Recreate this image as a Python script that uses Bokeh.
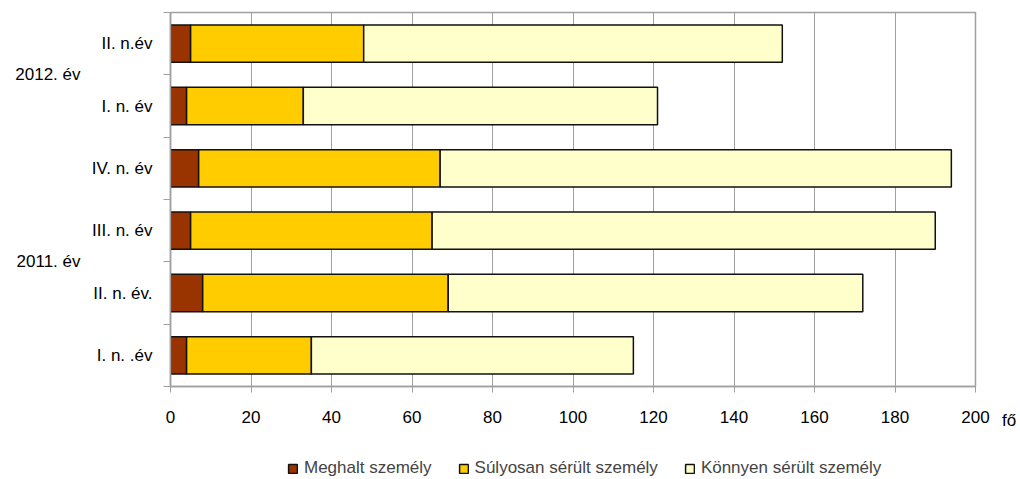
from bokeh.plotting import figure
from bokeh.layouts import row, column
from bokeh.models import (Range1d, FixedTicker, Legend, LegendItem, LinearAxis,
                          ColumnDataSource)
from bokeh.embed import file_html
from bokeh.resources import INLINE

# ---- data (bottom to top) ----
categories = ["I. n. .év", "II. n. év.", "III. n. év", "IV. n. év", "I. n. év", "II. n.év"]
meghalt = [4, 8, 5, 7, 4, 5]
sulyosan = [31, 61, 60, 60, 29, 43]
konnyen = [80, 103, 125, 127, 88, 104]
years = ["2011. év", "2012. év"]
year_sizes = [4, 2]
series_names = ["Meghalt személy", "Súlyosan sérült személy", "Könnyen sérült személy"]
x_ticks = [0, 20, 40, 60, 80, 100, 120, 140, 160, 180, 200]
unit_label = "fő"

# ---- styles ----
colors = ["#993300", "#FFCC00", "#FFFFCC"]
FONT = "Liberation Sans"
FS = "17px"
GRAY = "#A0A0A0"
BAR_LINE = "#111111"

ys = [i + 0.5 for i in range(len(categories))]
source = ColumnDataSource(dict(y=ys, cat=categories, m=meghalt, s=sulyosan, k=konnyen))

H = 448
p = figure(width=995, height=H, x_range=Range1d(0, x_ticks[-1]), y_range=Range1d(0, len(categories)),
           output_backend="svg", toolbar_location=None,
           min_border_left=170, min_border_right=20, min_border_top=12, min_border_bottom=62)
p.outline_line_color = GRAY
p.outline_line_width = 1.5

renderers = p.hbar_stack(["m", "s", "k"], y="y", height=0.6, color=colors,
                         line_color=BAR_LINE, line_width=1.5, source=source)

# x axis
p.xaxis.ticker = FixedTicker(ticks=x_ticks)
p.xaxis.major_tick_out = 6
p.xaxis.major_tick_in = 0
p.xaxis.minor_tick_out = 0
p.xaxis.axis_line_color = GRAY
p.xaxis.axis_line_width = 1.5
p.xaxis.major_tick_line_color = GRAY
p.xaxis.major_label_text_font = FONT
p.xaxis.major_label_text_font_size = FS
p.xaxis.major_label_text_color = "black"
p.xaxis.major_label_standoff = 18
p.xgrid.grid_line_color = GRAY
p.xgrid.grid_line_width = 1
p.ygrid.visible = False

# y axis (categories), boundary ticks as minor ticks
p.yaxis.ticker = FixedTicker(ticks=ys, minor_ticks=list(range(len(categories) + 1)))
p.yaxis.major_label_overrides = {y: c for y, c in zip(ys, categories)}
p.yaxis.major_tick_out = 0
p.yaxis.major_tick_in = 0
p.yaxis.minor_tick_out = 7
p.yaxis.minor_tick_in = 0
p.yaxis.minor_tick_line_color = GRAY
p.yaxis.axis_line_color = GRAY
p.yaxis.axis_line_width = 1.5
p.yaxis.major_label_text_font = FONT
p.yaxis.major_label_text_font_size = FS
p.yaxis.major_label_text_color = "black"
p.yaxis.major_label_standoff = 11

# year group labels as an outer axis
centers = []
start = 0
for n in year_sizes:
    centers.append(start + n / 2)
    start += n
yaxis2 = LinearAxis(ticker=FixedTicker(ticks=centers),
                    major_label_overrides={c: t for c, t in zip(centers, years)},
                    major_tick_out=0, major_tick_in=0, minor_tick_out=0, minor_tick_in=0,
                    axis_line_color=None, major_label_standoff=8,
                    major_label_text_font=FONT, major_label_text_font_size=FS,
                    major_label_text_color="black")
p.add_layout(yaxis2, "left")

# narrow side figure whose bottom axis carries the unit label
q = figure(width=25, height=H, x_range=Range1d(0, 25), y_range=Range1d(0, 1),
           output_backend="svg", toolbar_location=None, y_axis_location=None, min_border=0)
q.outline_line_color = None
q.grid.visible = False
q.xaxis.ticker = FixedTicker(ticks=[13.5])
q.xaxis.major_label_overrides = {13.5: unit_label}
q.xaxis.axis_line_color = None
q.xaxis.major_tick_line_color = None
q.xaxis.minor_tick_line_color = None
q.xaxis.major_tick_out = 6
q.xaxis.major_tick_in = 0
q.xaxis.major_label_standoff = 18
q.xaxis.major_label_text_font = FONT
q.xaxis.major_label_text_font_size = FS
q.xaxis.major_label_text_color = "black"

# legend strip below (swatch renderers carry no drawable data)
LH = 479 - H
lf = figure(width=1020, height=LH, x_range=Range1d(0, 1), y_range=Range1d(0, 1),
            output_backend="svg", toolbar_location=None, x_axis_location=None,
            y_axis_location=None, min_border=0)
lf.outline_line_color = None
lf.background_fill_color = "white"
lf.border_fill_color = "white"
lf.grid.visible = False
nan = float("nan")
swatches = [lf.hbar(y=[nan], left=[nan], right=[nan], height=0.5, fill_color=c,
                    line_color=BAR_LINE, line_width=1.5) for c in colors]
legend = Legend(items=[LegendItem(label=n, renderers=[r]) for n, r in zip(series_names, swatches)],
                orientation="horizontal", location=(287, 1), spacing=26,
                glyph_width=11, glyph_height=11, label_standoff=6, label_height=16,
                label_text_font=FONT, label_text_font_size=FS, padding=2, margin=0,
                border_line_color=None, background_fill_alpha=0)
lf.add_layout(legend, "center")

layout = column(row(p, q, spacing=0), lf, spacing=0)
open("out.html", "w").write(file_html(layout, INLINE))
